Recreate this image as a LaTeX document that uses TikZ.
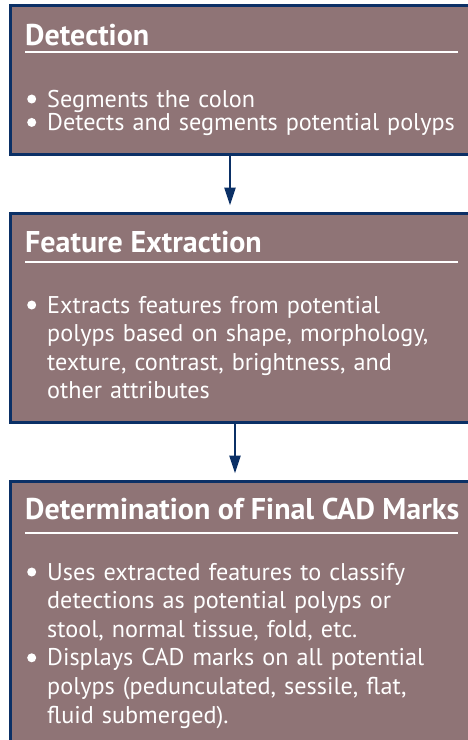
\documentclass[tikz,border=0pt]{standalone}
\usepackage{fontspec}
\setmainfont{PT Sans}
\usetikzlibrary{arrows.meta}
\definecolor{boxfill}{HTML}{8F7476}
\definecolor{navy}{HTML}{0B3066}
\newcommand{\bul}{\makebox[20pt][l]{\raisebox{3.5pt}{\tikz\fill[white] (0,0) circle (4.5pt);}}}
\newcommand{\bitem}{\noindent\hangindent=20pt\hangafter=1\bul}
\tikzset{
	stage/.style={rectangle, draw=navy, line width=3pt, fill=boxfill, anchor=north west, inner sep=0pt, outer sep=0pt, minimum width=470pt},
	title/.style={anchor=base west, inner sep=0pt, text=white, font=\bfseries\fontsize{30}{36}\selectfont},
	body/.style={anchor=base west, inner sep=0pt, text=white, text width=440pt, align=left, font=\fontsize{24.2}{#1}\selectfont},
	body/.default=28.6,
	rule/.style={draw=white, line width=2pt},
	flow/.style={draw=navy, line width=2.5pt, -{Triangle[width=11pt,length=18pt]}}
}
\begin{document}
\begin{tikzpicture}[x=1pt,y=-1pt]
	\useasboundingbox (0,0) rectangle (467,740);
	% stages
	\node[stage, minimum height=149pt] (det) at (10.5,5.5) {};
	\node[stage, minimum height=208.5pt] (feat) at (10.5,213.5) {};
	\node[stage, minimum height=270pt] (cad) at (10.5,481.5) {};
	% titles and rules
	\node[title] (dettitle) at (25,45) {Detection};
	\draw[rule] (25,52.3) -- (458,52.3);
	\node[title] (feattitle) at (25,252) {Feature Extraction};
	\draw[rule] (25,261.7) -- (458,261.7);
	\node[title] (cadtitle) at (25,519) {Determination of Final CAD Marks};
	\draw[rule] (25,533) -- (458,533);
	% bullet texts
	\node[body=23.4] (detbody) at (27,107) {\bitem Segments the colon\par
		\bitem Detects and segments potential polyps\par};
	\node[body] (featbody) at (27,313) {\bitem Extracts features from potential\newline
		polyps based on shape, morphology,\newline
		texture, contrast, brightness, and\newline
		other attributes\par};
	\node[body] (cadbody) at (27,580) {\bitem Uses extracted features to classify\newline
		detections as potential polyps or\newline
		stool, normal tissue, fold, etc.\par
		\bitem Displays CAD marks on all potential\newline
		polyps (pedunculated, sessile, flat,\newline
		fluid submerged).\par};
	% arrows
	\draw[flow] ([xshift=219.5pt]det.south west) -- ([xshift=219.5pt,yshift=8pt]feat.north west);
	\draw[flow] ([xshift=224.5pt]feat.south west) -- ([xshift=224.5pt,yshift=8pt]cad.north west);
\end{tikzpicture}
\end{document}
